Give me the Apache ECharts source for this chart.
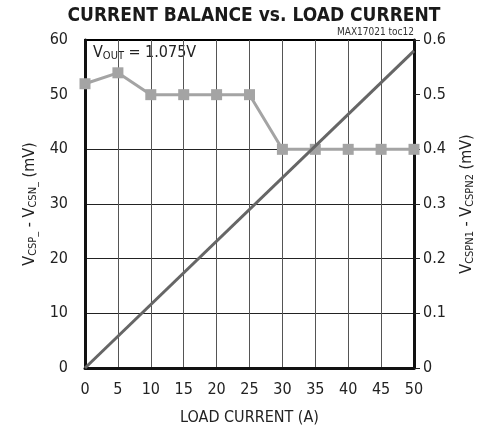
<!DOCTYPE html>
<html lang="en">
<head>
  <meta charset="UTF-8">
  <title>current balance</title>
  <script src="https://cdn.jsdelivr.net/npm/echarts@6/dist/echarts.min.js"></script>
  <style>
    body { margin: 0; background: #fff; }
    #chart { width: 488px; height: 433px; }
  </style>
</head>
<body>
  <div id="chart"></div>
  <script>
    // load current (A) and measured values
    let loadCurrent = [0, 5, 10, 15, 20, 25, 30, 35, 40, 45, 50];
    let balance = [0.52, 0.54, 0.50, 0.50, 0.50, 0.50, 0.40, 0.40, 0.40, 0.40, 0.40]; // VCSPN1 - VCSPN2 (mV)
    let senseX = [0, 50];
    let senseV = [0, 58]; // VCSP_ - VCSN_ (mV)

    let font = "'Liberation Sans Narrow', 'DejaVu Sans Condensed', sans-serif";

    let chart = echarts.init(document.getElementById('chart'));
    let option = {
      animation: false,
      title: {
        text: 'CURRENT BALANCE vs. LOAD CURRENT',
        left: 249, top: 2, textAlign: 'center',
        textStyle: { fontFamily: font, fontWeight: 'bold', fontSize: 19, color: '#1a1a1a' }
      },
      graphic: [
        {
          type: 'text', right: 74, top: 27,
          style: { text: 'MAX17021 toc12', fontFamily: font, fontSize: 10, fill: '#333' }
        },
        {
          type: 'text', left: 93, top: 45,
          style: {
            text: '{a|V}{s|OUT}{a| = 1.075V}',
            rich: {
              a: { fontFamily: font, fontSize: 16, fill: '#222' },
              s: { fontFamily: font, fontSize: 11, fill: '#222', padding: [7, 0, 0, 0] }
            }
          }
        }
      ],
      grid: {
        left: 85, right: 74, top: 40, bottom: 65,
        show: true, borderColor: '#000', borderWidth: 2
      },
      xAxis: {
        type: 'value', min: 0, max: 50, interval: 5,
        name: 'LOAD CURRENT (A)', nameLocation: 'middle', nameGap: 42,
        nameTextStyle: { fontFamily: font, fontSize: 16, color: '#222' },
        axisLine: { show: true, lineStyle: { color: '#111', width: 3 } },
        axisTick: { show: false },
        axisLabel: { fontFamily: font, fontSize: 16, color: '#222', margin: 14 },
        splitLine: { show: true, lineStyle: { color: '#555', width: 1 } }
      },
      yAxis: [
        {
          type: 'value', min: 0, max: 60, interval: 10, position: 'left',
          name: '{a|V}{s|CSP_}{a| - V}{s|CSN_}{a| (mV)}',
          nameLocation: 'middle', nameRotate: 90, nameGap: 46,
          nameTextStyle: {
            rich: {
              a: { fontFamily: font, fontSize: 16, color: '#222' },
              s: { fontFamily: font, fontSize: 11, color: '#222', padding: [7, 0, 0, 0] }
            }
          },
          axisLine: { show: true, lineStyle: { color: '#111', width: 3 } },
          axisTick: { show: false },
          axisLabel: { fontFamily: font, fontSize: 16, color: '#222', margin: 17 },
          splitLine: {
            show: true,
            lineStyle: { color: ['#000', '#222', '#222', '#222', '#222', 'transparent', '#000'], width: 1 }
          }
        },
        {
          type: 'value', min: 0, max: 0.6, interval: 0.1, position: 'right',
          name: '{a|V}{s|CSPN1}{a| - V}{s|CSPN2}{a| (mV)}',
          nameLocation: 'middle', nameRotate: 90, nameGap: 44,
          nameTextStyle: {
            rich: {
              a: { fontFamily: font, fontSize: 16, color: '#222' },
              s: { fontFamily: font, fontSize: 11, color: '#222', padding: [7, 0, 0, 0] }
            }
          },
          axisLine: { show: true, lineStyle: { color: '#111', width: 3 } },
          axisTick: { show: true, inside: false, length: 6, lineStyle: { color: '#222', width: 1 } },
          axisLabel: { fontFamily: font, fontSize: 16, color: '#222', margin: 9 },
          splitLine: { show: false }
        }
      ],
      series: [
        {
          type: 'line', yAxisIndex: 1,
          data: loadCurrent.map((x, i) => [x, balance[i]]),
          symbol: 'rect', symbolSize: 11,
          itemStyle: { color: '#a4a4a4' },
          lineStyle: { color: '#a4a4a4', width: 3 },
          z: 3
        },
        {
          type: 'line', yAxisIndex: 0,
          data: senseX.map((x, i) => [x, senseV[i]]),
          symbol: 'none',
          lineStyle: { color: '#666', width: 3 },
          z: 4
        }
      ]
    };
    chart.setOption(option);
  </script>
</body>
</html>
